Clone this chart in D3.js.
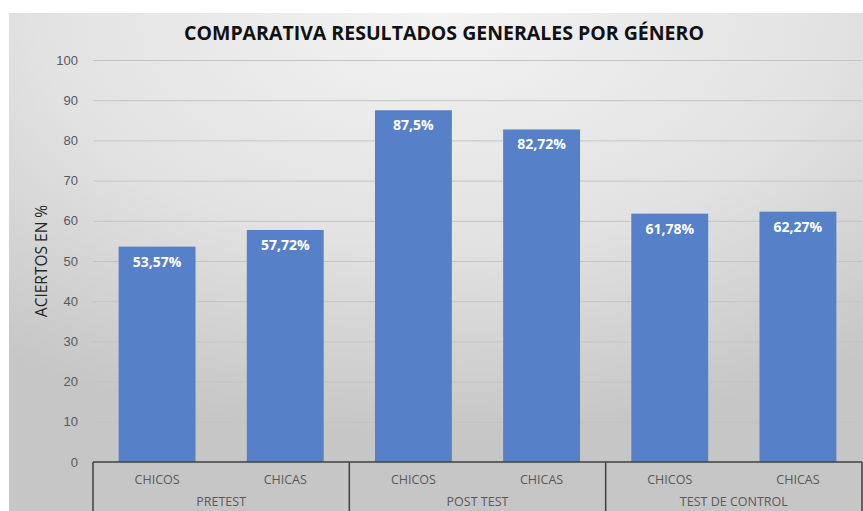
<!DOCTYPE html>
<html>
<head>
<meta charset="utf-8">
<script src="https://cdn.jsdelivr.net/npm/d3@7"></script>
<style>
  body { margin: 0; background: #fff; }
  svg { display: block; font-family: "Open Sans", "Noto Sans", sans-serif; }
</style>
</head>
<body>
<div id="wrapper"></div>
<script>
const groups = ["PRETEST", "POST TEST", "TEST DE CONTROL"];
const genders = ["CHICOS", "CHICAS"];
const values = [53.57, 57.72, 87.5, 82.72, 61.78, 62.27];
const valueLabels = ["53,57%", "57,72%", "87,5%", "82,72%", "61,78%", "62,27%"];
const yTicks = [0, 10, 20, 30, 40, 50, 60, 70, 80, 90, 100];

const rows = [];
groups.forEach((g, gi) => genders.forEach((s, si) => {
  const i = gi * genders.length + si;
  rows.push({ key: g + "|" + s, group: g, gender: s, value: values[i], label: valueLabels[i] });
}));

let dimensions = {
  width: 863,
  height: 511,
  margin: { top: 60, right: 1, bottom: 49, left: 93 }
};
dimensions.boundedWidth = dimensions.width - dimensions.margin.left - dimensions.margin.right;
dimensions.boundedHeight = dimensions.height - dimensions.margin.top - dimensions.margin.bottom;

const svg = d3.select("#wrapper").append("svg")
  .attr("width", dimensions.width)
  .attr("height", dimensions.height);

// background gradient
const defs = svg.append("defs");
const grad = defs.append("radialGradient")
  .attr("id", "bg").attr("cx", "50%").attr("cy", "0%").attr("r", "85%")
  .attr("fx", "50%").attr("fy", "0%");
grad.append("stop").attr("offset", "0%").attr("stop-color", "#f3f3f3");
grad.append("stop").attr("offset", "55%").attr("stop-color", "#e2e2e2");
grad.append("stop").attr("offset", "100%").attr("stop-color", "#c6c6c6");

svg.append("rect")
  .attr("x", 9).attr("y", 13)
  .attr("width", dimensions.width - 9).attr("height", dimensions.height - 13)
  .attr("fill", "url(#bg)");

const x = d3.scaleBand()
  .domain(rows.map(d => d.key))
  .range([dimensions.margin.left, dimensions.width - dimensions.margin.right])
  .paddingInner(0.4).paddingOuter(0.2);

const y = d3.scaleLinear()
  .domain([0, 100])
  .range([dimensions.margin.top + dimensions.boundedHeight, dimensions.margin.top]);

// gridlines + tick labels
const yAxis = d3.axisLeft(y).tickValues(yTicks)
  .tickSize(-(dimensions.width - dimensions.margin.left - dimensions.margin.right))
  .tickPadding(15);
const gy = svg.append("g")
  .attr("transform", `translate(${dimensions.margin.left},0)`)
  .call(yAxis);
gy.select(".domain").remove();
gy.selectAll(".tick line").attr("stroke", "#c4c4c4").attr("stroke-width", 1);
gy.selectAll(".tick text").attr("fill", "#595959").attr("font-size", 13);

// bars
svg.append("g").selectAll("rect")
  .data(rows).enter().append("rect")
  .attr("x", d => x(d.key))
  .attr("y", d => y(d.value))
  .attr("width", x.bandwidth())
  .attr("height", d => y(0) - y(d.value))
  .attr("fill", "#5681c9");

// value labels
svg.append("g").selectAll("text")
  .data(rows).enter().append("text")
  .attr("x", d => x(d.key) + x.bandwidth() / 2)
  .attr("y", d => y(d.value) + 20)
  .attr("text-anchor", "middle")
  .attr("fill", "#ffffff")
  .attr("font-weight", "bold")
  .attr("font-size", 14)
  .text(d => d.label);

// category axis box
const y0 = y(0);
const step = x.step();
const axisG = svg.append("g");
axisG.append("line")
  .attr("x1", dimensions.margin.left).attr("x2", dimensions.width - dimensions.margin.right)
  .attr("y1", y0).attr("y2", y0)
  .attr("stroke", "#404040").attr("stroke-width", 1.5);

const groupEdges = groups.map((g, gi) => x(g + "|" + genders[0]) - step * x.paddingOuter());
groupEdges.push(dimensions.width - dimensions.margin.right);
axisG.selectAll(".sep")
  .data(groupEdges).enter().append("line")
  .attr("x1", d => d).attr("x2", d => d)
  .attr("y1", y0).attr("y2", dimensions.height)
  .attr("stroke", "#404040").attr("stroke-width", 1.5);

axisG.selectAll(".cat")
  .data(rows).enter().append("text")
  .attr("x", d => x(d.key) + x.bandwidth() / 2)
  .attr("y", y0 + 22)
  .attr("text-anchor", "middle")
  .attr("fill", "#595959").attr("font-size", 12.5)
  .text(d => d.gender);

axisG.selectAll(".grp")
  .data(groups).enter().append("text")
  .attr("x", (d, i) => (groupEdges[i] + groupEdges[i + 1]) / 2)
  .attr("y", y0 + 44)
  .attr("text-anchor", "middle")
  .attr("fill", "#595959").attr("font-size", 12.5)
  .text(d => d);

// title
svg.append("text")
  .attr("x", 444).attr("y", 40)
  .attr("text-anchor", "middle")
  .attr("font-weight", "bold").attr("font-size", 19.5)
  .attr("fill", "#111")
  .text("COMPARATIVA RESULTADOS GENERALES POR GÉNERO");

// y axis title
svg.append("text")
  .attr("transform", `translate(47,261) rotate(-90)`)
  .attr("text-anchor", "middle")
  .attr("font-size", 15.5)
  .attr("fill", "#262626")
  .text("ACIERTOS EN %");
</script>
</body>
</html>
